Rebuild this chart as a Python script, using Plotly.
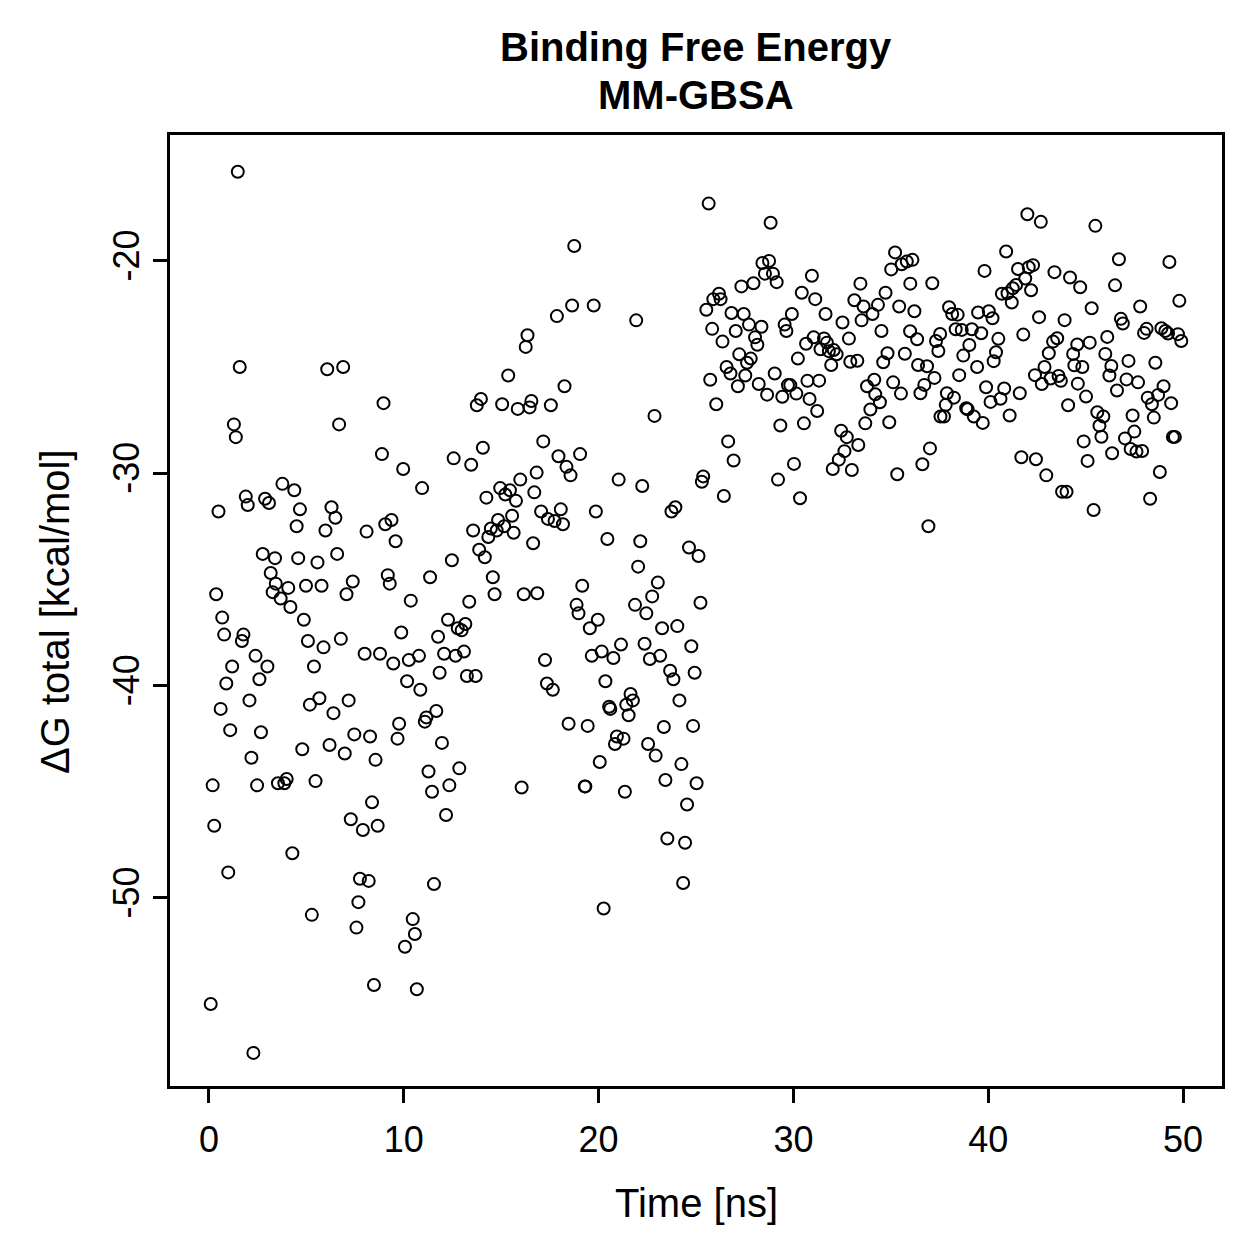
import plotly.graph_objects as go

time_ns = [
0.09,0.19,0.27,0.37,0.49,0.60,0.68,0.78,0.89,0.99,1.09,1.19,1.28,1.38,1.48,1.58,1.69,1.77,1.89,1.99,
2.08,2.18,2.28,2.39,2.47,2.59,2.67,2.76,2.88,3.00,3.08,3.17,3.27,3.39,3.43,3.54,3.68,3.77,3.87,3.99,
4.07,4.18,4.28,4.38,4.50,4.58,4.67,4.79,4.87,4.98,5.08,5.18,5.28,5.39,5.47,5.57,5.67,5.78,5.88,5.98,
6.07,6.19,6.29,6.39,6.49,6.58,6.68,6.77,6.89,6.97,7.06,7.17,7.28,7.38,7.46,7.57,7.67,7.75,7.90,7.99,
8.09,8.20,8.27,8.37,8.47,8.55,8.66,8.78,8.88,8.96,
9.05,9.18,9.28,9.37,9.46,9.58,9.68,9.76,9.87,9.97,10.06,10.17,10.26,10.36,10.46,10.57,10.67,10.78,10.85,10.94,
11.08,11.16,11.27,11.35,11.45,11.55,11.67,11.76,11.84,11.96,12.07,12.17,12.27,12.34,12.47,12.56,12.66,12.77,12.85,12.97,
13.09,13.16,13.24,13.36,13.46,13.56,13.69,13.75,13.87,13.96,14.06,14.16,14.24,14.34,14.47,14.57,14.66,14.77,14.84,14.95,
15.05,15.15,15.21,15.36,15.45,15.56,15.64,15.76,15.85,15.98,16.05,16.16,16.26,16.35,16.46,16.55,16.64,16.70,16.82,16.85,
17.05,17.16,17.25,17.35,17.40,17.55,17.65,17.74,17.86,17.94,18.06,18.17,18.25,18.35,18.46,18.56,18.64,18.75,18.87,18.97,
19.05,19.16,19.29,19.32,19.44,19.55,19.65,19.75,19.86,19.96,20.06,20.16,20.26,20.35,20.45,20.54,20.60,20.76,20.84,20.94,
21.03,21.15,21.28,21.35,21.42,21.54,21.64,21.76,21.87,21.93,22.03,22.14,22.24,22.36,22.45,22.54,22.63,22.75,22.87,22.93,
23.04,23.16,23.26,23.35,23.43,23.53,23.67,23.74,23.84,23.94,24.04,24.15,24.25,24.34,24.44,24.54,24.64,24.76,24.85,24.93,
25.03,25.13,25.23,25.30,25.37,25.53,25.65,25.73,25.83,25.89,26.04,26.18,26.26,26.36,26.43,26.57,26.65,26.77,26.82,26.93,
27.04,27.15,27.22,27.33,27.45,27.53,27.62,27.72,27.81,27.95,28.03,28.15,28.22,28.36,28.41,28.54,28.65,28.75,28.83,28.95,
29.04,29.14,29.21,29.33,29.43,29.55,29.64,29.72,29.84,29.92,30.03,30.15,30.23,30.34,30.43,30.54,30.65,30.72,30.83,30.95,
31.04,31.12,31.22,31.32,31.39,31.57,31.65,31.72,31.82,31.94,32.02,32.07,32.22,32.33,32.45,32.52,32.62,32.74,32.85,32.92,
33.00,33.13,33.28,33.33,33.44,33.50,33.60,33.69,33.78,33.95,
34.06,34.15,34.20,34.34,34.44,34.52,34.61,34.73,34.83,34.92,35.02,35.12,35.22,35.33,35.43,35.52,35.56,35.72,35.82,35.99,
36.00,36.11,36.21,36.35,36.40,36.52,36.62,36.72,36.86,36.93,37.01,37.13,37.24,37.32,37.44,37.53,37.55,37.73,37.82,37.88,
37.99,38.15,38.24,38.33,38.43,38.51,38.64,38.72,38.87,38.94,39.03,39.16,39.26,39.43,39.48,39.64,39.72,39.81,39.89,40.03,
40.12,40.22,40.28,40.40,40.52,40.63,40.70,40.82,40.92,40.99,41.10,41.21,41.26,41.43,41.53,41.62,41.70,41.80,41.90,42.01,
42.08,42.20,42.30,42.40,42.45,42.61,42.70,42.75,42.89,42.98,43.11,43.20,43.33,43.40,43.54,43.61,43.73,43.79,43.92,44.02,
44.10,44.20,44.36,44.42,44.57,44.60,44.72,44.83,44.90,45.02,45.10,45.21,45.31,45.41,45.50,45.60,45.71,45.81,45.91,46.01,
46.11,46.22,46.32,46.36,46.51,46.61,46.71,46.81,46.91,47.02,47.10,47.20,47.31,47.41,47.50,47.61,47.69,47.80,47.90,48.00,
48.13,48.19,48.31,48.40,48.50,48.58,48.72,48.81,48.89,49.00,49.09,49.23,49.30,49.39,49.48,49.58,49.74,49.81,49.91,
]

dg_total = [
-55.0,-44.7,-46.6,-35.7,-31.8,-41.1,-36.8,-37.6,-39.9,-48.8,-42.1,-39.1,-27.7,-28.3,-15.8,-25.0,-37.9,-37.6,-31.1,-31.5,
-40.7,-43.4,-57.3,-38.6,-44.7,-39.7,-42.2,-33.8,-31.2,-39.1,-31.4,-34.7,-35.6,-34.0,-35.2,-44.6,-35.9,-30.5,-44.6,-44.4,
-35.4,-36.3,-47.9,-30.8,-32.5,-34.0,-31.7,-43.0,-36.9,-35.3,-37.9,-40.9,-50.8,-39.1,-44.5,-34.2,-40.6,-35.3,-38.2,-32.7,
-25.1,-42.8,-31.6,-41.3,-32.1,-33.8,-27.7,-37.8,-25.0,-43.2,-35.7,-40.7,-46.3,-35.1,-42.3,-51.4,-50.2,-49.1,-46.8,-38.5,
-32.75,-49.2,-42.4,-45.5,-54.1,-43.5,-46.6,-38.5,-29.1,-26.7,
-32.4,-34.8,-35.2,-32.2,-38.96,-33.2,-42.5,-41.8,-37.5,-29.8,-52.3,-39.8,-38.8,-36.0,-51.0,-51.7,-54.3,-38.6,-40.2,-30.7,
-41.7,-41.5,-44.05,-34.9,-45.0,-49.35,-41.2,-37.7,-39.4,-42.7,-38.5,-46.1,-36.9,-44.7,-34.1,-29.3,-38.6,-37.3,-43.9,-37.4,
-38.4,-37.1,-39.55,-36.05,-29.6,-32.7,-39.55,-26.8,-33.6,-26.5,-28.8,-33.96,-31.15,-33.0,-32.6,-34.9,-35.7,-32.7,-32.2,-30.7,
-26.75,-32.5,-31.0,-25.4,-30.8,-32.0,-32.8,-31.3,-26.97,-30.3,-44.8,-35.7,-24.05,-23.5,-26.9,-26.6,-33.3,-30.9,-29.97,-35.65,
-31.8,-28.5,-38.8,-39.9,-32.15,-26.8,-40.2,-32.25,-22.6,-29.2,-31.7,-32.4,-25.9,-29.7,-41.8,-30.1,-22.1,-19.3,-36.2,-36.6,
-29.1,-35.3,-44.75,-44.75,-41.9,-37.3,-38.6,-22.1,-31.8,-36.9,-43.6,-38.4,-50.5,-39.8,-33.1,-41.0,-41.1,-38.7,-42.75,-42.4,
-30.3,-38.07,-42.5,-45.0,-40.9,-41.4,-40.4,-40.7,-36.2,-22.8,-34.4,-33.2,-30.6,-38.03,-36.6,-42.75,-38.75,-35.8,-27.3,-43.3,
-35.15,-38.6,-37.3,-41.95,-44.45,-47.2,-39.3,-31.8,-39.7,-31.6,-37.2,-40.7,-43.7,-49.3,-47.4,-45.6,-33.5,-38.15,-41.9,-39.4,
-44.6,-33.9,-36.1,-30.4,-30.15,-22.3,-17.3,-25.6,-23.2,-21.8,-26.75,-21.55,-21.8,-23.8,-31.07,-25.0,-28.5,-25.3,-22.45,-29.4,
-23.3,-25.9,-24.4,-21.2,-22.5,-25.4,-24.8,-23.0,-24.6,-21.05,-23.6,-23.95,-25.8,-23.1,-20.1,-20.6,-26.3,-20.0,-18.2,-20.6,
-25.3,-21.0,-30.3,-27.75,-26.4,-23.0,-23.3,-25.85,-25.85,-22.5,-29.56,-26.25,-24.6,-31.18,-21.5,-27.65,-23.9,-25.65,-26.5,-20.7,
-23.6,-21.8,-27.07,-25.64,-24.16,-23.65,-22.5,-23.85,-24.25,-24.9,-29.8,-24.2,-24.4,-29.36,-28.0,-22.9,-28.96,-28.3,-23.66,-24.75,
-29.85,-21.85,-24.7,-28.67,-21.07,-22.8,-22.15,-27.65,-25.9,-27.0,
-22.5,-25.6,-26.28,-22.07,-26.66,-23.3,-24.77,-21.5,-24.35,-27.6,-20.4,-25.72,-19.6,-30.05,-22.15,-26.25,-20.16,-24.37,-20.03,-23.31,
-21.07,-19.95,-22.37,-23.69,-24.9,-26.23,-29.58,-25.84,-24.96,-32.5,-28.83,-21.05,-25.51,-23.77,-24.24,-23.44,-27.33,-27.33,-26.78,-26.23,
-22.18,-22.5,-26.44,-23.22,-22.53,-25.38,-23.25,-24.46,-26.94,-26.99,-23.96,-23.22,-27.33,-25.0,-22.43,-23.41,-27.63,-20.47,-25.95,-22.37,
-26.64,-22.7,-24.72,-24.3,-23.67,-26.49,-21.55,-26.01,-19.56,-21.52,-27.28,-21.96,-21.29,-21.13,-20.38,-26.23,-29.25,-23.47,-20.83,-17.8,
-20.3,-21.38,-20.2,-25.38,-29.34,-22.65,-18.16,-25.8,-25.0,-30.1,-24.35,-25.54,-23.8,-20.53,-23.64,-25.42,-25.65,-30.87,-22.79,-30.87,
-26.8,-20.78,-24.38,-24.92,-23.94,-25.78,-21.24,-25.0,-28.5,-26.39,-29.42,-23.85,-22.23,-31.73,-18.35,-27.13,-27.76,-28.28,-27.33,-24.38,
-23.58,-25.4,-24.95,-29.06,-21.15,-26.1,-19.92,-22.73,-22.95,-28.36,-25.58,-24.71,-28.86,-27.28,-28.04,-28.98,-25.72,-22.15,-28.95,-23.39,
-23.2,-26.44,-31.2,-26.75,-27.38,-24.8,-26.31,-29.94,-23.17,-25.9,-23.3,-23.42,-20.05,-26.7,-28.29,-28.29,-23.45,-21.88,-23.77,
]

x_ticks = [0, 10, 20, 30, 40, 50]
y_ticks = [-50, -40, -30, -20]
title_lines = ["Binding Free Energy", "MM-GBSA"]
x_label = "Time [ns]"
y_label = "ΔG total [kcal/mol]"

FONT = "Liberation Sans, Arial, Helvetica, sans-serif"

# plot region in pixels (used to place the text annotations)
plot_l, plot_r, plot_t, plot_b = 170, 1222, 135, 1086


def px_x(px):
    return (px - plot_l) / (plot_r - plot_l)


def px_y(py):
    return (plot_b - py) / (plot_b - plot_t)


fig = go.Figure()
fig.add_trace(go.Scatter(
    x=time_ns, y=dg_total, mode="markers",
    marker=dict(symbol="circle-open", size=12, color="black", line=dict(width=2, color="black")),
    showlegend=False, hoverinfo="x+y",
))

axis_common = dict(
    showgrid=False, zeroline=False, showline=True, mirror=True,
    linecolor="black", linewidth=2.5, ticks="outside", ticklen=14, tickwidth=2.5,
    tickcolor="black", tickfont=dict(family=FONT, size=36, color="black"),
)

txt = dict(family=FONT, size=40, color="black")
fig.update_layout(
    width=1259, height=1259,
    margin=dict(l=plot_l, r=1259 - plot_r, t=plot_t, b=1259 - plot_b),
    paper_bgcolor="white", plot_bgcolor="white",
    xaxis=dict(range=[-2, 52], tickvals=x_ticks, ticktext=[str(v) for v in x_ticks],
               ticklabelstandoff=6, **axis_common),
    yaxis=dict(range=[-58.86, -14.07], tickvals=y_ticks, ticktext=[str(v) for v in y_ticks],
               tickangle=-90, ticklabelstandoff=0, **axis_common),
    annotations=[
        dict(text="<b>%s</b>" % title_lines[0], x=0.5, y=px_y(47), xref="paper", yref="paper",
             xanchor="center", yanchor="middle", showarrow=False, font=txt),
        dict(text="<b>%s</b>" % title_lines[1], x=0.5, y=px_y(95), xref="paper", yref="paper",
             xanchor="center", yanchor="middle", showarrow=False, font=txt),
        dict(text=x_label, x=px_x(696), y=px_y(1203), xref="paper", yref="paper",
             xanchor="center", yanchor="middle", showarrow=False, font=txt),
        dict(text=y_label, x=px_x(55), y=px_y(612), xref="paper", yref="paper", textangle=-90,
             xanchor="center", yanchor="middle", showarrow=False, font=txt),
    ],
)

fig.write_html("out.html")
